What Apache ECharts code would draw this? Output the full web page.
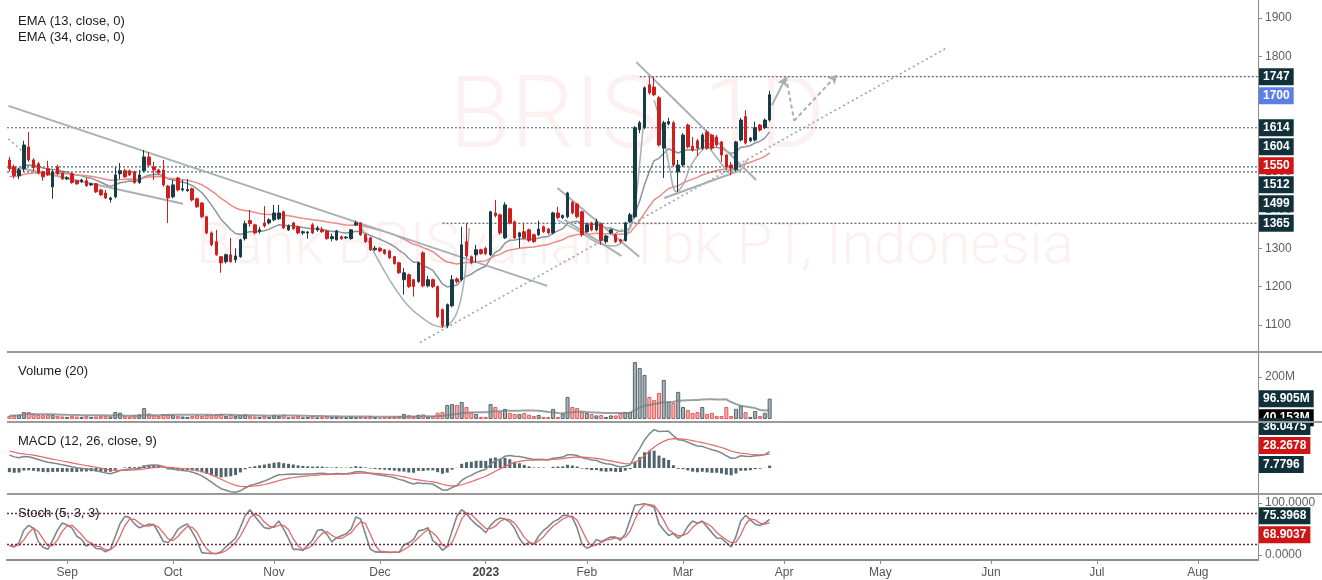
<!DOCTYPE html>
<html>
<head>
<meta charset="utf-8">
<script src="https://cdn.jsdelivr.net/npm/echarts@6/dist/echarts.min.js"></script>
<style>
  html, body { margin: 0; padding: 0; background: #fff; }
  #chart { width: 1322px; height: 580px; }
</style>
</head>
<body>
<div id="chart"></div>
<script>
// trading days on the axis, Aug 2022 -> Aug 2023
const startDate = '2022-08-15';
const dayCount = 260;
const holidays = ['2022-08-17', '2023-01-23', '2023-03-22', '2023-03-23'];
const monthNames = ['Jan', 'Feb', 'Mar', 'Apr', 'May', 'Jun', 'Jul', 'Aug', 'Sep', 'Oct', 'Nov', 'Dec'];

// daily candles
const opens = [1530,1512,1489,1507,1564,1530,1520,1499,1507,1460,1512,1496,1481,1494,1476,1474,1476,1465,1468,1452,
  1444,1427,1434,1494,1502,1502,1499,1471,1502,1538,1512,1504,1504,1462,1434,1483,1452,1450,1455,1429,
  1418,1382,1340,1317,1278,1265,1283,1270,1278,1325,1372,1361,1344,1366,1366,1374,1377,1395,1348,1366,
  1356,1340,1340,1361,1348,1348,1345,1325,1322,1330,1327,1325,1361,1366,1335,1327,1296,1300,1296,1293,
  1278,1262,1218,1231,1218,1213,1288,1202,1218,1200,1140,1098,1150,1220,1218,1317,1278,1283,1296,1300,
  1283,1392,1387,1327,1403,1369,1330,1343,1348,1335,1335,1356,1350,1340,1392,1380,1382,1420,1415,1395,
  1343,1366,1348,1364,1317,1340,1335,1322,1320,1369,1382,1609,1614,1726,1720,1692,1561,1624,1627,1499,
  1517,1621,1566,1580,1561,1603,1595,1590,1577,1543,1517,1505,1582,1643,1580,1582,1621,1614,1634];
const closes = [1507,1489,1504,1569,1530,1510,1496,1486,1491,1499,1494,1481,1484,1471,1468,1478,1463,1468,1447,1439,
  1431,1431,1491,1502,1486,1491,1471,1491,1538,1517,1504,1496,1465,1431,1465,1452,1455,1453,1426,1408,
  1382,1340,1309,1283,1262,1283,1265,1280,1322,1364,1364,1340,1348,1358,1374,1392,1392,1353,1358,1351,
  1340,1343,1342,1340,1353,1343,1325,1330,1345,1325,1329,1348,1366,1335,1317,1296,1300,1293,1286,1275,
  1260,1236,1236,1200,1200,1262,1202,1218,1200,1122,1098,1153,1218,1213,1309,1280,1262,1296,1286,1286,
  1395,1385,1340,1413,1366,1327,1340,1327,1320,1317,1350,1343,1340,1392,1380,1385,1444,1392,1382,1335,
  1361,1348,1369,1320,1332,1348,1317,1318,1366,1387,1614,1627,1718,1705,1700,1569,1627,1630,1517,1517,
  1595,1564,1556,1561,1595,1561,1561,1569,1543,1512,1509,1577,1634,1574,1587,1614,1608,1634,1700];
const lows = [1500,1482,1480,1500,1525,1500,1492,1476,1488,1429,1490,1478,1478,1468,1465,1470,1460,1462,1444,1436,
  1428,1419,1430,1480,1483,1488,1468,1468,1498,1512,1478,1492,1460,1366,1430,1448,1448,1447,1422,1405,
  1378,1336,1305,1280,1236,1260,1262,1262,1275,1320,1356,1336,1338,1354,1362,1370,1374,1350,1345,1348,
  1336,1335,1325,1337,1343,1340,1322,1318,1320,1322,1324,1322,1358,1332,1314,1293,1293,1290,1283,1272,
  1257,1233,1179,1196,1174,1210,1198,1198,1196,1118,1092,1092,1146,1208,1214,1276,1258,1262,1283,1282,
  1280,1380,1335,1324,1362,1324,1301,1324,1316,1314,1332,1340,1336,1336,1376,1376,1378,1388,1378,1330,
  1340,1344,1344,1309,1312,1336,1314,1312,1317,1366,1378,1600,1610,1700,1696,1565,1483,1620,1512,1447,
  1512,1560,1552,1540,1556,1556,1556,1565,1525,1505,1490,1500,1578,1570,1576,1578,1604,1610,1630];
const highs = [1538,1518,1510,1580,1603,1535,1525,1502,1528,1505,1518,1500,1488,1497,1478,1481,1484,1470,1470,1455,
  1452,1434,1512,1522,1507,1505,1502,1504,1556,1551,1525,1507,1530,1465,1478,1486,1478,1480,1458,1432,
  1420,1385,1344,1348,1280,1286,1327,1300,1325,1372,1400,1364,1356,1410,1378,1413,1413,1398,1362,1369,
  1359,1346,1345,1366,1358,1356,1348,1338,1348,1333,1332,1350,1372,1368,1338,1330,1306,1303,1298,1296,
  1280,1265,1248,1234,1220,1265,1292,1228,1221,1203,1143,1156,1230,1224,1356,1366,1281,1309,1299,1304,
  1398,1426,1390,1420,1406,1372,1343,1366,1351,1338,1372,1359,1353,1395,1408,1388,1447,1423,1418,1398,
  1366,1369,1377,1367,1335,1350,1338,1325,1369,1392,1618,1632,1722,1746,1746,1697,1632,1640,1632,1530,
  1600,1625,1590,1585,1600,1608,1598,1595,1580,1546,1525,1580,1640,1660,1590,1630,1624,1638,1710];
// volume, millions of shares
const volumes = [15,18,20,33,33,22,20,18,22,20,15,12,10,14,12,10,15,10,12,14,
  15,12,33,30,14,12,18,22,52,26,18,14,22,24,20,15,12,10,14,18,
  15,20,18,22,24,14,20,14,19,22,16,12,10,15,10,18,14,20,8,12,
  14,8,10,15,8,10,14,10,12,10,8,12,8,12,10,14,8,6,8,10,
  12,14,24,18,14,20,22,12,14,30,33,67,71,67,81,57,33,24,10,10,
  71,57,33,48,29,24,24,29,20,14,19,10,10,48,10,24,105,57,52,33,
  29,24,17,19,10,17,17,29,33,33,271,243,210,105,90,124,186,81,76,129,
  57,43,29,33,57,24,29,14,14,57,14,48,62,33,10,38,14,29,96.905];

const ema13Start = 1509, ema34Start = 1486;
const ema12Start = 1512, ema26Start = 1480, signalStart = 41;

// tick labels and level values
const priceTicks = [1100, 1200, 1300, 1400, 1500, 1600, 1700, 1800, 1900];
const volumeTicks = [200e6];
const stochTicks = [0, 100];
const stochBands = [80, 20];
const priceTags = [1747, 1700, 1614, 1604, 1550, 1512, 1499, 1365];
const volumeTags = [96.905e6, 40.153e6];
const macdTags = [36.0475, 28.2678, 7.7796];
const stochTags = [75.3968, 68.9037];

// drawn objects, in [day index, price]
const levelLines = [[131, 1747], [-0.5, 1614], [-0.5, 1512], [-0.5, 1499], [90, 1365]];
const trendDown = [[-0.2, 1671], [111.8, 1202]];
const trendLow = [[2.3, 1509], [36.1, 1416]];
const tinyDotted = [[-0.2, 1585], [2.9, 1551]];
const upTrend = [[85.3, 1054], [194.8, 1822]];
const arcDec = [[73.2, 1353], [78.0, 1239], [82.2, 1160], [86.3, 1114], [89.8, 1095], [92.5, 1119], [94.2, 1192], [95.2, 1296], [95.6, 1353]];
const febLineA = [[113.9, 1457], [130.9, 1278]];
const febLineB = [[115.4, 1374], [127.2, 1280]];
const arcFeb = [[113.9, 1374], [118.5, 1343], [122.6, 1312], [125.7, 1306], [128.2, 1332], [129.9, 1405], [131.1, 1535], [132.2, 1686]];
const arcMar = [[134.0, 1686], [135.7, 1608], [137.1, 1517], [138.6, 1447], [140.0, 1465], [141.7, 1517], [144.4, 1561], [147.1, 1582]];
const arcMar2 = [[144.4, 1582], [147.1, 1535], [149.6, 1504], [151.7, 1504], [153.3, 1530]];
const wedgeTop = [[130.3, 1785], [155.2, 1478]];
const wedgeLow = [[136.1, 1431], [152.1, 1504]];
const arrowUp = [[158.5, 1673], [161.4, 1746]];
const arrowDashDown = [[161.4, 1746], [163.1, 1632]];
const arrowDashUp = [[163.1, 1632], [172.0, 1752]];

// ---- derived ----
const dates = [];
(function () {
  const d = new Date(startDate + 'T00:00:00Z');
  while (dates.length < dayCount) {
    const wd = d.getUTCDay();
    const s = d.toISOString().slice(0, 10);
    if (wd !== 0 && wd !== 6 && holidays.indexOf(s) < 0) dates.push(s);
    d.setUTCDate(d.getUTCDate() + 1);
  }
})();
const monthStart = new Set();
dates.forEach((d, i) => { if (i > 0 && d.slice(5, 7) !== dates[i - 1].slice(5, 7)) monthStart.add(i); });

function ema(src, n, start) {
  const k = 2 / (n + 1);
  let prev = start;
  return src.map(v => (prev = prev + k * (v - prev)));
}
function sma(src, n) {
  return src.map((v, i) => {
    const part = src.slice(Math.max(0, i - n + 1), i + 1);
    return part.reduce((a, b) => a + b, 0) / part.length;
  });
}

const ema13 = ema(closes, 13, ema13Start);
const ema34 = ema(closes, 34, ema34Start);
const e12 = ema(closes, 12, ema12Start);
const e26 = ema(closes, 26, ema26Start);
const macd = e12.map((v, i) => v - e26[i]);
const signal = ema(macd, 9, signalStart);
const hist = macd.map((v, i) => v - signal[i]);

const rawK = closes.map((c, i) => {
  const lo = Math.min(...lows.slice(Math.max(0, i - 4), i + 1));
  const hi = Math.max(...highs.slice(Math.max(0, i - 4), i + 1));
  return hi === lo ? 50 : (c - lo) / (hi - lo) * 100;
});
const stochK = sma(rawK, 3);
const stochD = sma(stochK, 3);

const volAbs = volumes.map(v => v * 1e6);
const volMa = sma(volAbs, 20);

const UP = '#173c45', DOWN = '#d21d1d', DRAW = '#a8b0b3';
const upVol = { color: 'rgba(110,128,134,0.6)', borderColor: '#52666c', borderWidth: 1 };
const downVol = { color: 'rgba(236,110,110,0.55)', borderColor: '#e25a5a', borderWidth: 1 };

const chart = echarts.init(document.getElementById('chart'), null, { renderer: 'canvas' });

const grids = [
  { left: 7, right: 64, top: 0, height: 352 },
  { left: 7, right: 64, top: 352, height: 70 },
  { left: 7, right: 64, top: 422, height: 72 },
  { left: 7, right: 64, top: 494, height: 66 }
];

const xAxes = grids.map((g, k) => ({
  type: 'category',
  gridIndex: k,
  data: dates,
  boundaryGap: true,
  axisLine: { show: k === 3, onZero: false, lineStyle: { color: '#8c8c8c', width: 2 } },
  axisTick: { show: k === 3, interval: idx => monthStart.has(idx), alignWithLabel: true, length: 4, lineStyle: { color: '#8c8c8c' } },
  axisLabel: {
    show: k === 3,
    interval: idx => monthStart.has(idx),
    color: '#555',
    fontSize: 12,
    fontFamily: 'Liberation Sans',
    margin: 7,
    formatter: val => {
      const m = +val.slice(5, 7);
      return m === 1 ? '{y|' + val.slice(0, 4) + '}' : monthNames[m - 1];
    },
    rich: { y: { fontWeight: 'bold', color: '#444', fontSize: 12, fontFamily: 'Liberation Sans' } }
  },
  splitLine: { show: false }
}));
xAxes.push({ type: 'value', gridIndex: 0, min: -0.5, max: dayCount - 0.5, show: false });

const axisLineStyle = { show: true, onZero: false, lineStyle: { color: '#8c8c8c', width: 1 } };
const yLabel = { color: '#5e5e5e', fontSize: 12, fontFamily: 'Liberation Sans', margin: 7 };

const yAxes = [
  {
    gridIndex: 0, position: 'right', min: 1029.6, max: 1946.9,
    axisLine: axisLineStyle,
    axisTick: { show: true, customValues: priceTicks, length: 4, lineStyle: { color: '#8c8c8c' } },
    axisLabel: Object.assign({ customValues: priceTicks, formatter: v => String(v) }, yLabel),
    splitLine: { show: false }
  },
  {
    gridIndex: 1, position: 'right', min: -14.3e6, max: 319e6,
    axisLine: axisLineStyle,
    axisTick: { show: true, customValues: volumeTicks, length: 4, lineStyle: { color: '#8c8c8c' } },
    axisLabel: Object.assign({ customValues: volumeTicks, formatter: v => Math.round(v / 1e6) + 'M' }, yLabel),
    splitLine: { show: false }
  },
  {
    gridIndex: 2, position: 'right', min: -59, max: 104.5,
    axisLine: axisLineStyle, axisTick: { show: false }, axisLabel: { show: false }, splitLine: { show: false }
  },
  {
    gridIndex: 3, position: 'right', min: -9.6, max: 117.3,
    axisLine: axisLineStyle,
    axisTick: { show: true, customValues: stochTicks, length: 4, lineStyle: { color: '#8c8c8c' } },
    axisLabel: Object.assign({ customValues: stochTicks, formatter: v => v.toFixed(4) }, yLabel),
    splitLine: { show: false }
  }
];

function drawing(data, style, extra) {
  return Object.assign({
    type: 'line', xAxisIndex: 4, yAxisIndex: 0, data: data,
    symbol: 'none', silent: true, z: 3,
    lineStyle: Object.assign({ color: DRAW, width: 2 }, style)
  }, extra || {});
}

const series = [
  {
    type: 'candlestick', xAxisIndex: 0, yAxisIndex: 0, barWidth: 3, z: 4,
    data: opens.map((o, i) => [o, closes[i], lows[i], highs[i]]),
    itemStyle: { color: UP, color0: DOWN, borderColor: UP, borderColor0: DOWN, borderWidth: 1 }
  },
  { type: 'line', xAxisIndex: 0, yAxisIndex: 0, data: ema13, symbol: 'none', z: 3, lineStyle: { color: '#8a9598', width: 1.5 } },
  { type: 'line', xAxisIndex: 0, yAxisIndex: 0, data: ema34, symbol: 'none', z: 3, lineStyle: { color: '#e88c86', width: 1.5 } }
];

levelLines.forEach(l => {
  series.push(drawing([l, [dayCount - 0.5, l[1]]], { color: '#56656b', width: 1.2, type: [2, 2] }));
});
series.push(drawing(trendDown, {}));
series.push(drawing(trendLow, {}));
series.push(drawing(tinyDotted, { type: [2, 3], width: 1.5, color: '#98a1a4' }));
series.push(drawing(upTrend, { type: [2, 3], width: 1.5, color: '#98a1a4' }));
series.push(drawing(arcDec, { width: 1.5 }, { smooth: 0.4 }));
series.push(drawing(febLineA, {}));
series.push(drawing(febLineB, {}));
series.push(drawing(arcFeb, { width: 1.5 }, { smooth: 0.4 }));
series.push(drawing(arcMar, { width: 1.5 }, { smooth: 0.4 }));
series.push(drawing(arcMar2, { width: 1.5 }, { smooth: 0.4 }));
series.push(drawing(wedgeTop, {}));
series.push(drawing(wedgeLow, {}));
series.push({
  type: 'line', xAxisIndex: 4, yAxisIndex: 0, data: [], silent: true, z: 3,
  markLine: {
    silent: true, animation: false, symbolSize: [8, 9],
    label: { show: false },
    data: [
      [{ coord: arrowUp[0], symbol: 'none', lineStyle: { color: DRAW, width: 2, type: 'solid' } }, { coord: arrowUp[1], symbol: 'arrow' }],
      [{ coord: arrowDashDown[0], symbol: 'none', lineStyle: { color: DRAW, width: 2, type: [4, 3] } }, { coord: arrowDashDown[1], symbol: 'none' }],
      [{ coord: arrowDashUp[0], symbol: 'none', lineStyle: { color: DRAW, width: 2, type: [4, 3] } }, { coord: arrowDashUp[1], symbol: 'arrow' }]
    ]
  }
});

// volume pane
series.push({
  type: 'bar', xAxisIndex: 1, yAxisIndex: 1, barWidth: 4, z: 2,
  data: volAbs.map((v, i) => ({ value: v, itemStyle: closes[i] >= opens[i] ? upVol : downVol }))
});
series.push({ type: 'line', xAxisIndex: 1, yAxisIndex: 1, data: volMa, symbol: 'none', z: 3, lineStyle: { color: 'rgba(120,128,130,0.75)', width: 2 } });

// MACD pane
series.push({ type: 'bar', xAxisIndex: 2, yAxisIndex: 2, data: hist, barWidth: 3, itemStyle: { color: '#4f646b' } });
series.push({ type: 'line', xAxisIndex: 2, yAxisIndex: 2, data: macd, symbol: 'none', lineStyle: { color: '#7b898d', width: 1.5 } });
series.push({ type: 'line', xAxisIndex: 2, yAxisIndex: 2, data: signal, symbol: 'none', lineStyle: { color: '#e26a6a', width: 1.2 } });

// stochastic pane
series.push({
  type: 'line', xAxisIndex: 3, yAxisIndex: 3, data: stochK, symbol: 'none', z: 3,
  lineStyle: { color: '#7b898d', width: 1.6 },
  markLine: {
    silent: true, symbol: 'none', animation: false, label: { show: false },
    lineStyle: { color: '#6b2744', type: [2, 2], width: 1.3 },
    data: stochBands.map(v => ({ yAxis: v }))
  }
});
series.push({ type: 'line', xAxisIndex: 3, yAxisIndex: 3, data: stochD, symbol: 'none', z: 3, lineStyle: { color: '#e26a6a', width: 1.3 } });

const textFont = '13px "Liberation Sans", Arial, sans-serif';
const legendText = (txt, y) => ({ type: 'text', x: 18, y: y, z: 1, style: { text: txt, font: textFont, fill: '#1b1b1b', verticalAlign: 'middle' } });

const baseGraphic = [
  { type: 'text', x: 637, y: 122, z: 0, silent: true, style: { text: 'BRIS, 1D', font: '300 100px Roboto', fill: '#fcf0f0', align: 'center', verticalAlign: 'middle' } },
  { type: 'text', x: 635, y: 248, z: 0, silent: true, style: { text: 'Bank BRISyariah Tbk PT, Indonesia', font: '300 58px Roboto', fill: '#fcf0f0', align: 'center', verticalAlign: 'middle' } },
  legendText('EMA (13, close, 0)', 21),
  legendText('EMA (34, close, 0)', 37),
  legendText('Volume (20)', 371),
  legendText('MACD (12, 26, close, 9)', 441),
  legendText('Stoch (5, 3, 3)', 513)
];

chart.setOption({
  backgroundColor: '#ffffff',
  animation: false,
  grid: grids,
  xAxis: xAxes,
  yAxis: yAxes,
  series: series,
  graphic: baseGraphic
});

// value tags at the right edge, pushed apart when they collide
const TAG_H = 19;
const DARK = '#10303a', RED = '#cf1515';
function tagElements(values, colors, yAxisIndex, dir, fmt) {
  const items = values.map((v, i) => ({ v: v, c: colors[i], y: chart.convertToPixel({ yAxisIndex: yAxisIndex }, v) }));
  items.sort((a, b) => dir > 0 ? a.y - b.y : b.y - a.y);
  for (let k = 1; k < items.length; k++) {
    items[k].y = dir > 0 ? Math.max(items[k].y, items[k - 1].y + TAG_H) : Math.min(items[k].y, items[k - 1].y - TAG_H);
  }
  return items.map(it => ({
    type: 'text', x: 1259, y: it.y, z: 20, silent: true,
    style: {
      text: fmt(it.v), font: 'bold 12px "Liberation Sans", Arial, sans-serif', fill: '#ffffff',
      backgroundColor: it.c, padding: [3, 4, 2, 4], verticalAlign: 'middle', align: 'left'
    }
  }));
}

const tags = [].concat(
  tagElements(priceTags, [DARK, '#5b7fe6', DARK, DARK, RED, DARK, DARK, DARK], 0, 1, v => String(v)),
  tagElements(volumeTags, [DARK, '#000000'], 1, 1, v => (v / 1e6).toFixed(3) + 'M'),
  tagElements(macdTags, [DARK, RED, DARK], 2, -1, v => v.toFixed(4)),
  tagElements(stochTags, [DARK, RED], 3, 1, v => v.toFixed(4))
);

const separators = [352, 422, 494].map(y => ({
  type: 'line', z: 30, silent: true, shape: { x1: 7, y1: y, x2: 1322, y2: y }, style: { stroke: '#9a9a9a', lineWidth: 2 }
}));

chart.setOption({ graphic: baseGraphic.concat(tags, separators) });
</script>
</body>
</html>
